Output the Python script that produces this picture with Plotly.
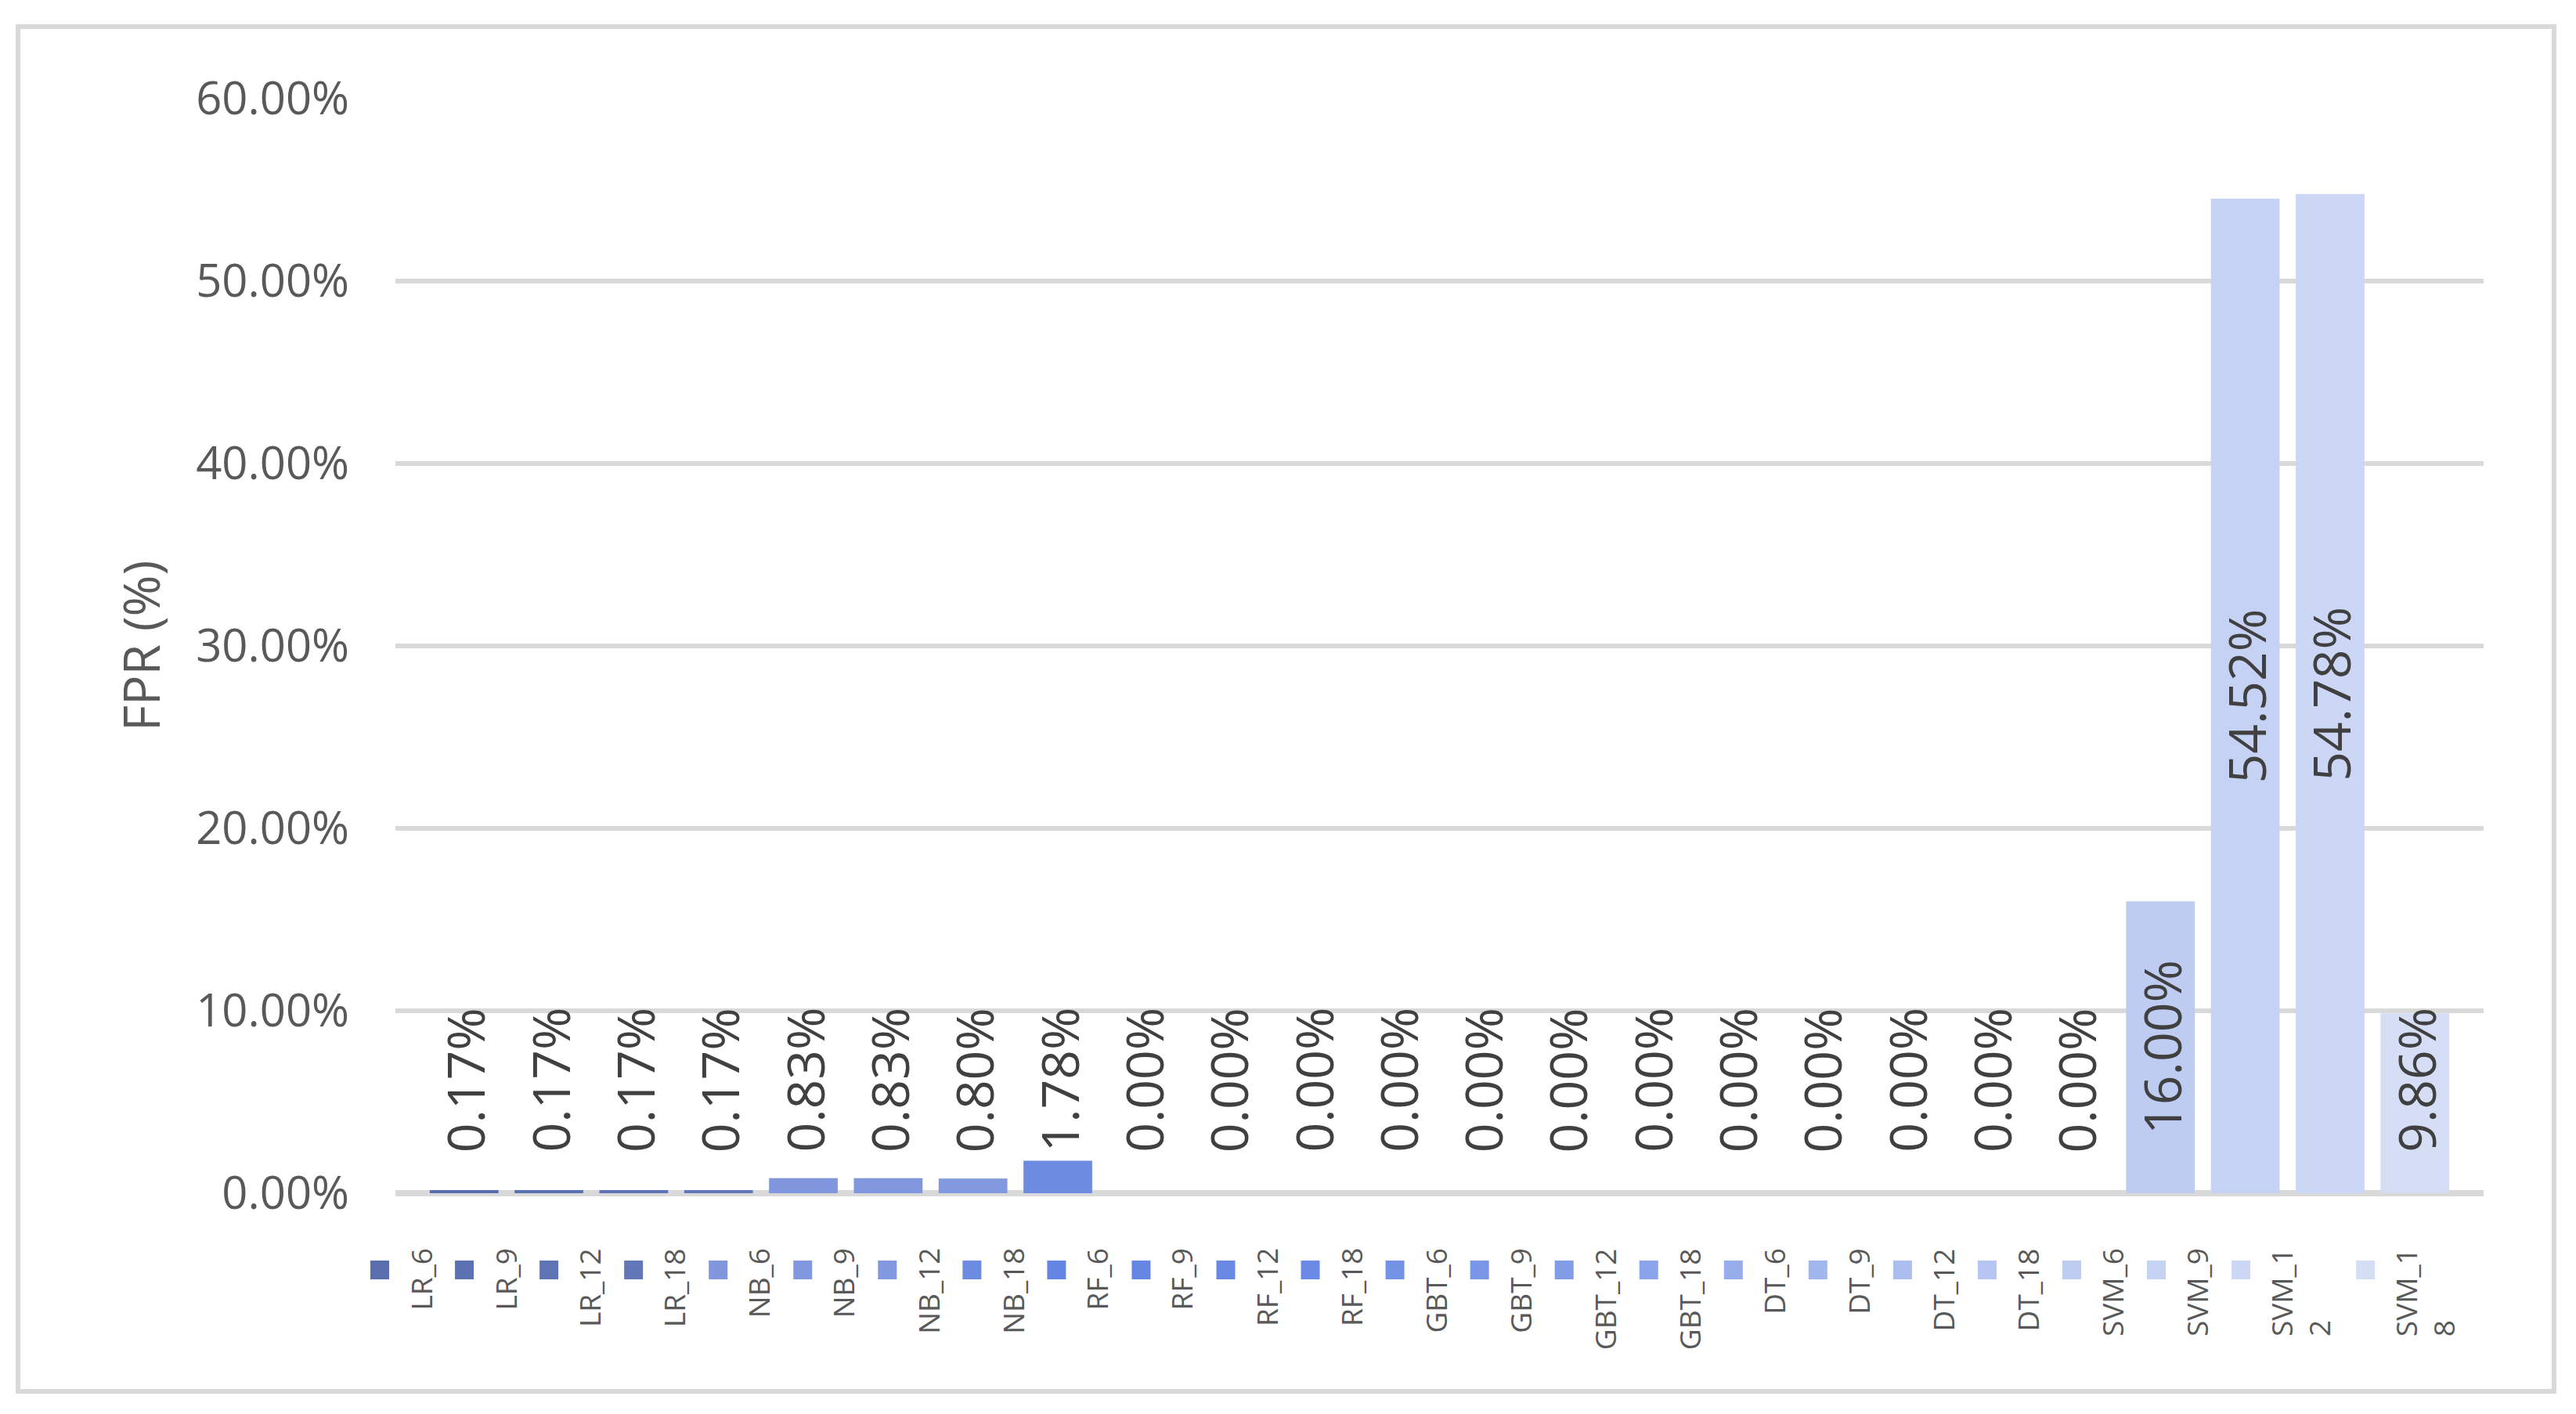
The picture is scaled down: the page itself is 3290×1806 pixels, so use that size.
import plotly.graph_objects as go

# categories and FPR values (fractions)
categories = [
    "LR_6", "LR_9", "LR_12", "LR_18",
    "NB_6", "NB_9", "NB_12", "NB_18",
    "RF_6", "RF_9", "RF_12", "RF_18",
    "GBT_6", "GBT_9", "GBT_12", "GBT_18",
    "DT_6", "DT_9", "DT_12", "DT_18",
    "SVM_6", "SVM_9", "SVM_12", "SVM_18",
]
fpr = [
    0.0017, 0.0017, 0.0017, 0.0017,
    0.0083, 0.0083, 0.0080, 0.0178,
    0.0, 0.0, 0.0, 0.0,
    0.0, 0.0, 0.0, 0.0,
    0.0, 0.0, 0.0, 0.0,
    0.1600, 0.5452, 0.5478, 0.0986,
]
y_ticks = [0.0, 0.1, 0.2, 0.3, 0.4, 0.5, 0.6]

# one colour per series, dark blue -> pale blue
colors = [
    "#5a6eae", "#5c71b1", "#5f74b4", "#6277b8",
    "#8096dd", "#8197de", "#8298df", "#6d8ce1",
    "#6585e2", "#6686e3", "#6888e4", "#6a8ae5",
    "#7593e6", "#7a97e7", "#829de8", "#8aa3ea",
    "#98aeec", "#a2b6ee", "#acbef0", "#b6c5f1",
    "#bfccf1", "#c6d2f3", "#ccd6f5", "#d6def6",
]

OFF = 8  # the page body adds an 8px margin
W, H = 3290 - OFF, 1806 - OFF
L, R, T, B = 505, 3172, 126, 1524  # plot area in screen pixels


def px_x(px):
    return (px - L) / (R - L)


def px_y(py):
    return (B - py) / (B - T)


fig = go.Figure()
fig.add_trace(
    go.Bar(
        x=categories,
        y=fpr,
        marker=dict(color=colors, line=dict(width=0)),
        showlegend=False,
        hoverinfo="x+y",
    )
)

# ... data labels, rotated, centred in tall bars, parked above the axis otherwise
for cat, v in zip(categories, fpr):
    if v >= 0.12:
        pos = dict(y=v / 2, yanchor="middle", yshift=0)
    else:
        pos = dict(y=0, yanchor="bottom", yshift=50)
    fig.add_annotation(
        x=cat,
        xref="x",
        yref="y",
        text=f"{v:.2%}",
        textangle=-90,
        showarrow=False,
        xanchor="center",
        font=dict(family="Open Sans", size=66, color="#404040"),
        **pos,
    )

# ... hand-drawn legend with rotated labels
shapes = []
sw_x = 485.0
for cat, col in zip(categories, colors):
    wrapped = cat.startswith("SVM_1")
    label = cat[:5] + "<br>" + cat[5:] if wrapped else cat
    shapes.append(
        dict(
            type="rect", xref="paper", yref="paper",
            x0=px_x(sw_x - 12), x1=px_x(sw_x + 12),
            y0=px_y(1634), y1=px_y(1610),
            fillcolor=col, line=dict(width=0),
        )
    )
    fig.add_annotation(
        x=px_x(sw_x + 24), y=px_y(1592),
        xref="paper", yref="paper",
        text=label, textangle=-90, showarrow=False,
        xanchor="left", yanchor="top", align="left",
        font=dict(family="Open Sans", size=37, color="#595959"),
    )
    sw_x += 108.05 + (51 if wrapped else 0)

# chart border
shapes.append(
    dict(
        type="rect", xref="paper", yref="paper",
        x0=px_x(23), x1=px_x(3262), y0=px_y(1777), y1=px_y(34),
        line=dict(color="#d9d9d9", width=6), fillcolor="rgba(0,0,0,0)",
        layer="below",
    )
)

fig.add_annotation(
    x=px_x(179), y=0.5, xref="paper", yref="paper",
    text="FPR (%)", textangle=-90, showarrow=False,
    xanchor="center", yanchor="middle",
    font=dict(family="Open Sans", size=64, color="#595959"),
)

fig.update_layout(
    width=W,
    height=H,
    margin=dict(l=L - OFF, r=W - (R - OFF), t=T - OFF, b=H - (B - OFF), autoexpand=False),
    paper_bgcolor="white",
    plot_bgcolor="white",
    bargap=0.19,
    shapes=shapes,
    font=dict(family="Open Sans", color="#595959"),
)
fig.update_xaxes(
    type="category",
    range=[-0.81, len(categories) - 1 + 0.81],
    showticklabels=False,
    showgrid=False,
    zeroline=False,
    showline=False,
)
fig.update_yaxes(
    range=[0, 0.6],
    tickvals=y_ticks,
    tickformat=".2%",
    tickfont=dict(family="Open Sans", size=58, color="#595959"),
    ticklabelstandoff=58,
    showgrid=True,
    gridcolor="#d9d9d9",
    gridwidth=6,
    zeroline=True,
    zerolinecolor="#d9d9d9",
    zerolinewidth=8,
    showline=False,
)

fig.write_html("out.html")
